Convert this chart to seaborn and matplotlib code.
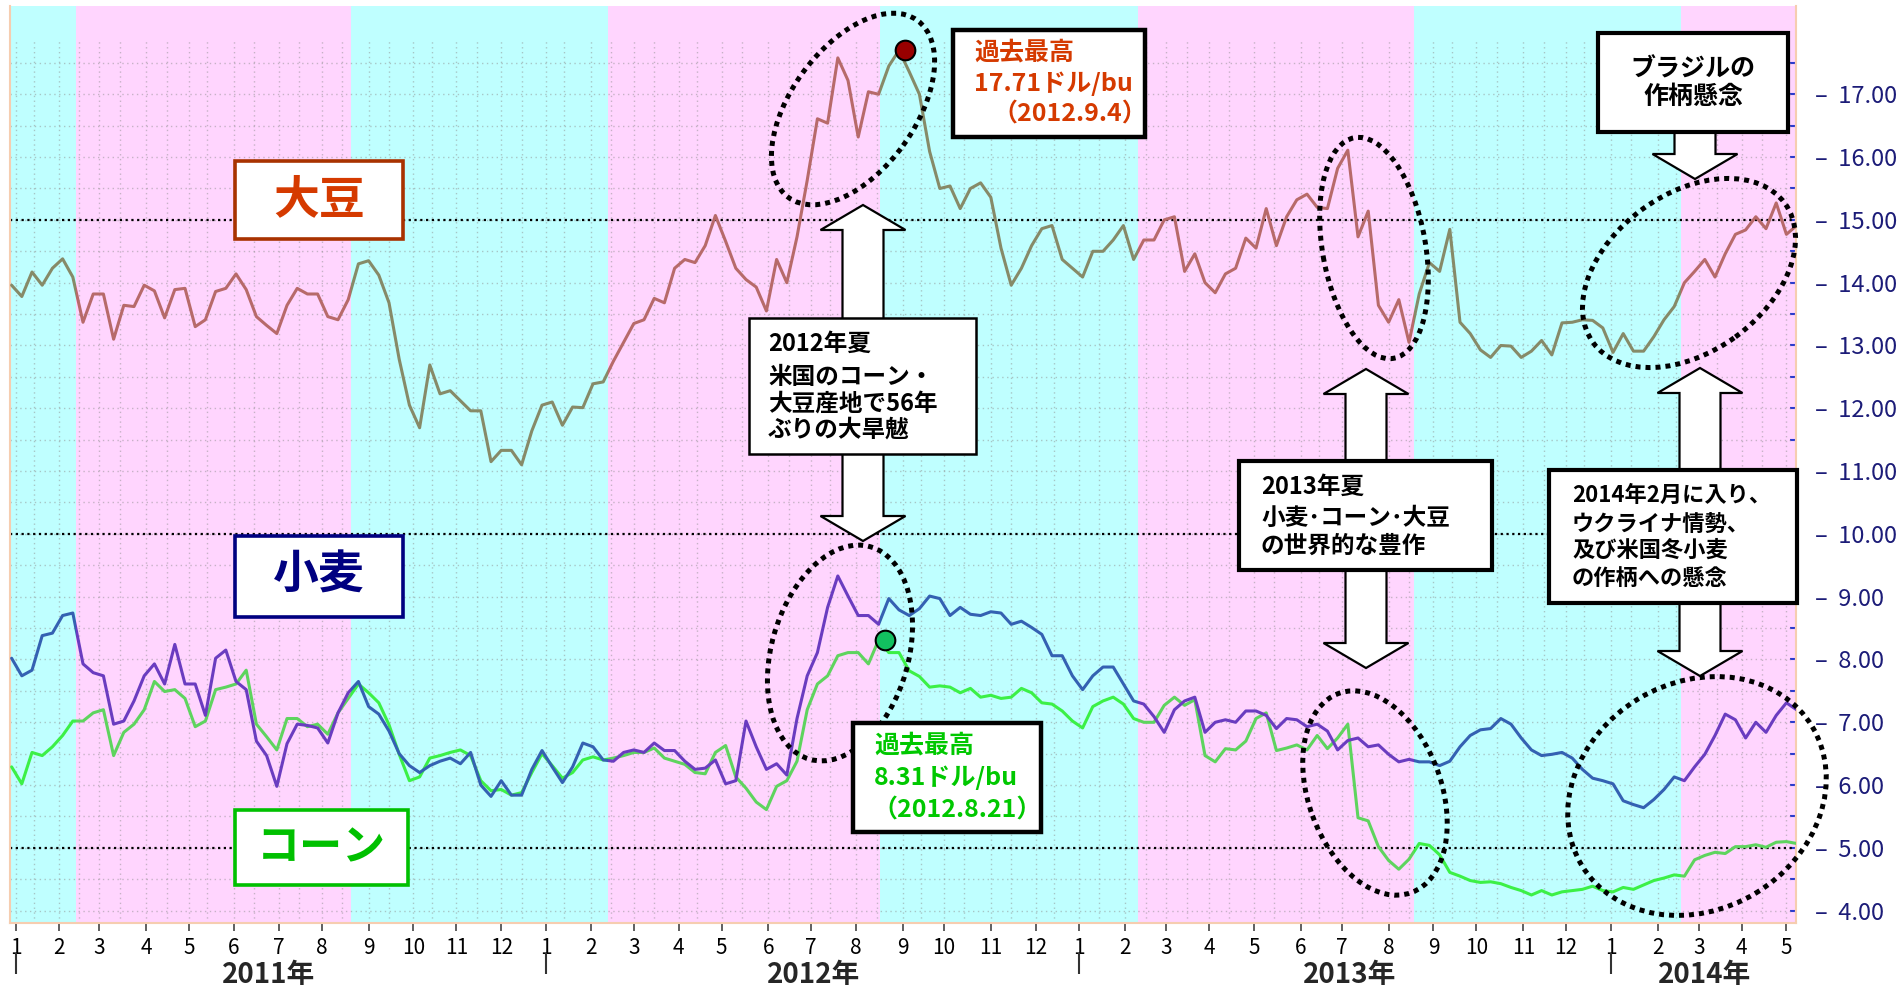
import numpy as np
import pandas as pd
import matplotlib
matplotlib.use("Agg")
import matplotlib.pyplot as plt
import matplotlib.patches as mpatches
import matplotlib.transforms as mtransforms
from matplotlib.path import Path
import seaborn as sns

sns.set_theme(style="white")
plt.rcParams['font.family'] = ['Noto Sans CJK JP', 'DejaVu Sans']
plt.rcParams['axes.unicode_minus'] = False

W, H = 1899, 992
NUM_FONT = ['Liberation Sans Narrow', 'Noto Sans CJK JP', 'DejaVu Sans']

# 週次サンプル (5営業日ごと, 2010-12-30 起点), ドル/bu
soy = [13.96, 13.78, 14.17, 13.96, 14.23, 14.38, 14.09, 13.37, 13.82, 13.82, 13.10, 13.64, 13.62, 13.96, 13.87,
       13.44, 13.89, 13.91, 13.30, 13.41, 13.86, 13.91, 14.14, 13.89, 13.46, 13.32, 13.19, 13.64, 13.91,
       13.82, 13.82, 13.46, 13.41, 13.73, 14.30, 14.35, 14.12, 13.68, 12.78, 12.05, 11.69, 12.69, 12.23, 12.28,
       12.12, 11.96, 11.96, 11.15, 11.33, 11.33, 11.10, 11.64, 12.05, 12.10, 11.73, 12.02, 12.01, 12.39,
       12.42, 12.75, 13.05, 13.35, 13.41, 13.75, 13.68, 14.23, 14.37, 14.32, 14.59, 15.07, 14.66, 14.23, 14.05,
       13.93, 13.55, 14.37, 14.00, 14.73, 15.63, 16.61, 16.54, 17.58, 17.22, 16.32, 17.04, 17.00, 17.45,
       17.70, 17.36, 17.00, 16.09, 15.50, 15.54, 15.18, 15.50, 15.59, 15.36, 14.55, 13.96, 14.23, 14.59, 14.86,
       14.91, 14.37, 14.23, 14.09, 14.50, 14.50, 14.68, 14.91, 14.37, 14.68, 14.68, 15.00, 15.05, 14.18, 14.46,
       14.00, 13.84, 14.14, 14.23, 14.71, 14.55, 15.18, 14.59, 15.05, 15.32, 15.41, 15.20, 15.18, 15.82, 16.11,
       14.73, 15.14, 13.64, 13.37, 13.73, 13.05, 13.82, 14.32, 14.18, 14.85, 13.37, 13.19, 12.93, 12.81,
       13.00, 12.99, 12.81, 12.91, 13.08, 12.85, 13.36, 13.37, 13.41, 13.40, 13.28, 12.89, 13.19, 12.91, 12.91,
       13.14, 13.41, 13.62, 14.00, 14.18, 14.37, 14.09, 14.46, 14.77, 14.84, 15.05, 14.86, 15.27, 14.77, 14.91]

wheat = [8.02, 7.74, 7.83, 8.38, 8.42, 8.70, 8.74, 7.93, 7.79, 7.74, 6.97, 7.02, 7.34, 7.74, 7.93,
         7.61, 8.24, 7.61, 7.61, 7.11, 8.02, 8.15, 7.65, 7.52, 6.70, 6.47, 5.98, 6.66, 6.97,
         6.95, 6.91, 6.67, 7.15, 7.47, 7.65, 7.25, 7.13, 6.86, 6.50, 6.31, 6.20, 6.31, 6.38, 6.43,
         6.34, 6.52, 6.00, 5.82, 6.07, 5.84, 5.84, 6.25, 6.55, 6.29, 6.04, 6.29, 6.67, 6.61,
         6.40, 6.38, 6.52, 6.56, 6.52, 6.67, 6.55, 6.55, 6.38, 6.25, 6.27, 6.40, 6.02, 6.07, 7.02,
         6.61, 6.25, 6.34, 6.16, 7.06, 7.74, 8.11, 8.83, 9.33, 9.01, 8.70, 8.70, 8.56, 8.97,
         8.79, 8.70, 8.81, 9.01, 8.97, 8.70, 8.83, 8.72, 8.70, 8.76, 8.74, 8.56, 8.61, 8.51, 8.40,
         8.06, 8.06, 7.74, 7.52, 7.74, 7.88, 7.88, 7.61, 7.34, 7.29, 7.09, 6.84, 7.20, 7.34, 7.40,
         6.84, 7.00, 7.04, 7.00, 7.18, 7.18, 7.11, 6.90, 7.06, 7.04, 6.93, 6.97, 6.86, 6.56, 6.71,
         6.75, 6.61, 6.64, 6.49, 6.37, 6.41, 6.37, 6.37, 6.31, 6.38, 6.61, 6.79, 6.88, 6.90,
         7.06, 6.97, 6.75, 6.56, 6.47, 6.49, 6.52, 6.43, 6.25, 6.11, 6.07, 6.02, 5.75, 5.69, 5.64,
         5.77, 5.93, 6.13, 6.07, 6.29, 6.49, 6.79, 7.13, 7.04, 6.75, 7.00, 6.84, 7.11, 7.31, 7.20]

corn = [6.29, 6.02, 6.52, 6.47, 6.61, 6.79, 7.02, 7.02, 7.15, 7.20, 6.47, 6.84, 6.97, 7.20, 7.65,
        7.49, 7.52, 7.38, 6.93, 7.02, 7.52, 7.56, 7.61, 7.83, 6.97, 6.77, 6.56, 7.06, 7.06,
        6.93, 6.97, 6.81, 7.15, 7.38, 7.61, 7.47, 7.31, 6.96, 6.49, 6.07, 6.13, 6.43, 6.47, 6.52,
        6.56, 6.47, 6.07, 5.91, 5.93, 5.84, 5.88, 6.20, 6.50, 6.31, 6.11, 6.20, 6.40, 6.45,
        6.40, 6.43, 6.47, 6.52, 6.52, 6.59, 6.43, 6.38, 6.33, 6.20, 6.18, 6.52, 6.63, 6.13, 5.95,
        5.73, 5.61, 5.98, 6.07, 6.38, 7.20, 7.61, 7.74, 8.06, 8.11, 8.11, 7.93, 8.31, 8.11,
        8.11, 7.82, 7.73, 7.56, 7.58, 7.56, 7.47, 7.54, 7.40, 7.43, 7.38, 7.40, 7.54, 7.47, 7.31,
        7.29, 7.18, 7.02, 6.91, 7.25, 7.34, 7.40, 7.29, 7.06, 7.00, 7.00, 7.27, 7.40, 7.27, 7.36,
        6.47, 6.37, 6.58, 6.56, 6.70, 7.06, 7.15, 6.55, 6.59, 6.64, 6.56, 6.79, 6.58, 6.75, 6.97,
        5.48, 5.43, 5.02, 4.80, 4.66, 4.82, 5.07, 5.04, 4.89, 4.61, 4.55, 4.48, 4.45, 4.46,
        4.43, 4.37, 4.32, 4.25, 4.32, 4.25, 4.30, 4.32, 4.34, 4.39, 4.32, 4.30, 4.37, 4.34, 4.41,
        4.48, 4.52, 4.57, 4.55, 4.81, 4.88, 4.93, 4.91, 5.02, 5.02, 5.05, 5.01, 5.09, 5.10, 5.07]

record_dates = ["2012-09-04", "2012-08-21"]
record_vals = [17.71, 8.31]

# 背景の色分け (営業日インデックス)
pink_spans = [(31.6, 166.4), (292.3, 425.7), (552.2, 687.4), (818.3, 880.0)]
cyan_spans = [(-10.0, 31.6), (166.4, 292.3), (425.7, 552.2), (687.4, 818.3)]

year_labels = ["2011年", "2012年", "2013年", "2014年"]
year_label_x = [126, 393, 656, 830]

PINK, CYAN = "#FFD5FE", "#BFFFFF"
XMIN, XMAX, YMIN, YMAX = -0.79, 874.7, 3.804, 18.406

days = pd.bdate_range("2010-12-30", "2014-06-30")
x = np.arange(len(soy)) * 5

months = pd.date_range("2011-01-01", "2014-05-01", freq="MS")
month_pos = days.searchsorted(months)
month_lab = [str(m.month) for m in months]
mid_pos = days.searchsorted(months + pd.Timedelta(days=14), side="right") - 1
jan_pos = month_pos[months.month == 1]

fig = plt.figure(figsize=(W / 100, H / 100), dpi=100)
ax = fig.add_axes([10 / W, 1 - 923 / H, 1786 / W, 917 / H])
ax.set_facecolor(CYAN)
ax.set_xlim(XMIN, XMAX)
ax.set_ylim(YMIN, YMAX)
ax.set_autoscale_on(False)

for a, b in pink_spans:
    ax.axvspan(a, b, color=PINK, lw=0, zorder=0)

grid_kw = dict(colors="#8f8f8f", linestyles=(0, (1, 2.5)), lw=1.0, alpha=0.5, zorder=1)
ax.hlines(np.arange(4, 17.6, 0.5), XMIN, XMAX, **grid_kw)
ax.vlines(np.concatenate([month_pos, mid_pos]), YMIN, 17.86, **grid_kw)
for v in (15, 10, 5):
    ax.axhline(v, color="black", lw=1.6, ls=(0, (1, 1.6)), zorder=2)


def clip_path(spans):
    verts, codes = [], []
    for a, b in spans:
        verts += [(a, -10), (b, -10), (b, 40), (a, 40), (a, -10)]
        codes += [Path.MOVETO, Path.LINETO, Path.LINETO, Path.LINETO, Path.CLOSEPOLY]
    return Path(verts, codes)


# 背景ごとに線の色が変わる
series = [(soy, "#B76A6A", "#868A68"), (corn, "#5ED45E", "#3CF046"), (wheat, "#6A3CC0", "#3461B2")]
for vals, c_pink, c_cyan in series:
    for spans, col in ((pink_spans, c_pink), (cyan_spans, c_cyan)):
        sns.lineplot(x=x, y=vals, color=col, lw=2.2, ax=ax, zorder=3)
        ax.lines[-1].set_clip_path(clip_path(spans), ax.transData)

rec_x = days.searchsorted(pd.to_datetime(record_dates))
sns.scatterplot(x=rec_x[:1], y=record_vals[:1], color="#990000", s=200, edgecolor="black",
                linewidth=1.5, zorder=8, ax=ax)
sns.scatterplot(x=rec_x[1:], y=record_vals[1:], color="#12C060", s=200, edgecolor="black",
                linewidth=1.5, zorder=8, ax=ax)

# 軸
ax.yaxis.tick_right()
ax.set_yticks(np.arange(4, 18))
ax.set_yticklabels([f"–  {v:.2f}" for v in np.arange(4, 18)], family=NUM_FONT)
ax.set_yticks(np.arange(4.5, 17.6, 1), minor=True)
ax.tick_params(axis="y", which="both", right=True, left=False, direction="in", length=4, width=1.5,
               color="#2a3ad0", labelsize=17, labelcolor="#1C1C78", pad=14)
ax.set_xticks(month_pos)
ax.set_xticklabels(month_lab, family=NUM_FONT)
ax.tick_params(axis="x", bottom=True, direction="out", length=6, width=1.2, color="#444444",
               labelsize=15, labelcolor="black", pad=4)
ax.set_xlabel("")
ax.set_ylabel("")
for side in ("left", "bottom", "right"):
    ax.spines[side].set_color("#F6CDB0")
    ax.spines[side].set_linewidth(1.5)
ax.spines["top"].set_visible(False)

xt = ax.get_xaxis_transform()
ax.vlines(jan_pos, -0.056, -0.033, transform=xt, clip_on=False, color="#333333", lw=1.5)
for lab, xp in zip(year_labels, year_label_x):
    ax.text(xp, -0.057, lab, transform=xt, ha="center", va="center", fontsize=20,
            fontweight="bold", family=NUM_FONT)

# 注記 (画像ピクセル座標, y は下向き)
disp = mtransforms.IdentityTransform()


def box(x0, y0, x1, y1, ec, lw):
    ax.add_patch(mpatches.Rectangle((x0, H - y1), x1 - x0, y1 - y0, transform=disp, fc="white",
                                    ec=ec, lw=lw, zorder=6, clip_on=False))


def write(rows, color, size, ha="left"):
    for s, xp, yp in rows:
        ax.text(xp, H - yp, s, transform=disp, ha=ha, va="center", color=color, fontsize=size,
                fontweight="bold", zorder=7)


def block_arrow(xc, y_from, y_to):
    ax.add_patch(mpatches.FancyArrow(xc, H - y_from, 0, y_from - y_to, width=41, head_width=85,
                                     head_length=25, length_includes_head=True, transform=disp,
                                     fc="white", ec="black", lw=1.6, zorder=5, clip_on=False))


def ring(cx, cy, w, h, ang):
    ax.add_patch(mpatches.Ellipse((cx, H - cy), w, h, angle=ang, transform=disp, fill=False,
                                  ec="black", lw=3.6, ls=(0, (1, 1)), zorder=5, clip_on=False))


ring(853, 109, 219, 124, 54)
ring(840, 653, 221, 137, 74)
ring(1374, 248, 224, 103, -80)
ring(1375, 793, 212, 133, -70)
ring(1689, 273, 237, 158, 36)
ring(1697, 796, 269, 227, 31)

block_arrow(863, 321, 205)
block_arrow(863, 451, 541)
block_arrow(1366, 464, 369)
block_arrow(1366, 567, 668)
block_arrow(1700, 473, 368)
block_arrow(1700, 600, 676)
block_arrow(1695, 129, 179)

box(235, 161, 403, 239, "#A83200", 2.6)
write([("大豆", 319, 200)], "#D53A00", 33, ha="center")
box(235, 536, 403, 617, "#000080", 2.6)
write([("小麦", 319, 576)], "#000080", 33, ha="center")
box(235, 810, 408, 885, "#00C000", 2.6)
write([("コーン", 321, 847)], "#00C000", 31, ha="center")

box(953, 30, 1145, 137, "black", 3.2)
write([("過去最高", 974, 52), ("17.71ドル/bu", 974, 84), ("（2012.9.4）", 992, 115)], "#D53A00", 18)
box(853, 723, 1041, 832, "black", 3.2)
write([("過去最高", 874, 745), ("8.31ドル/bu", 874, 778), ("（2012.8.21）", 872, 810)], "#00C800", 18)

box(749, 318, 976, 454, "black", 1.8)
write([("2012年夏", 768, 344), ("米国のコーン・", 768, 377), ("大豆産地で56年", 768, 404),
       ("ぶりの大旱魃", 768, 430)], "black", 17)
box(1239, 461, 1492, 570, "black", 3.0)
write([("2013年夏", 1261, 487), ("小麦･コーン･大豆", 1261, 518), ("の世界的な豊作", 1261, 546)],
      "black", 17)
box(1549, 470, 1797, 603, "black", 3.0)
write([("2014年2月に入り、", 1572, 495), ("ウクライナ情勢、", 1572, 524), ("及び米国冬小麦", 1572, 550),
       ("の作柄への懸念", 1572, 578)], "black", 16)
box(1598, 33, 1788, 132, "black", 3.0)
write([("ブラジルの", 1693, 69), ("作柄懸念", 1693, 97)], "black", 18, ha="center")

ax.set_xlim(XMIN, XMAX)
ax.set_ylim(YMIN, YMAX)
fig.savefig("out.png", dpi=100)
